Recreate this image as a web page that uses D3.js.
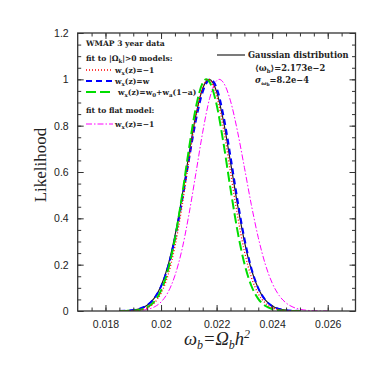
<!DOCTYPE html>
<html><head><meta charset="utf-8">
<script src="https://cdn.jsdelivr.net/npm/d3@7"></script>
<style>body{margin:0;background:#fff}</style>
</head><body>
<svg id="c" width="388" height="388"></svg>
<script>
// x positions (omega_b) and likelihood values
const xGauss = [0.0185,0.01875,0.019,0.01925,0.0195,0.01975,0.02,0.02025,0.0205,0.02075,0.021,0.02125,0.0215,0.02173,0.022,0.02225,0.0225,0.02275,0.023,0.02325,0.0235,0.02375,0.024,0.02425,0.0245,0.02475,0.025];
const yGauss = [0.0004,0.0014,0.0039,0.0103,0.0248,0.0542,0.108,0.196,0.325,0.490,0.673,0.843,0.961,1.0,0.947,0.818,0.643,0.461,0.301,0.179,0.0973,0.0481,0.0217,0.0089,0.0033,0.0011,0.0004];

const xRed = [0.0185,0.01875,0.019,0.01925,0.0195,0.01975,0.02,0.02025,0.0205,0.02075,0.021,0.02125,0.0215,0.0217,0.02175,0.022,0.02225,0.0225,0.02275,0.023,0.02325,0.0235,0.02375,0.024,0.02425,0.0245,0.02475,0.025];
const yRed = [0.0001,0.0004,0.0015,0.0048,0.0136,0.034,0.0766,0.154,0.278,0.448,0.647,0.835,0.965,1.0,0.998,0.930,0.785,0.599,0.414,0.258,0.146,0.0746,0.0345,0.0144,0.0055,0.0019,0.0006,0.0002];

const xBlue = [0.0185,0.01875,0.019,0.01925,0.0195,0.01975,0.02,0.02025,0.0205,0.02075,0.021,0.02125,0.0215,0.02178,0.022,0.02225,0.0225,0.02275,0.023,0.02325,0.0235,0.02375,0.024,0.02425,0.0245,0.02475,0.025];
const yBlue = [0.0005,0.0015,0.0042,0.0107,0.0251,0.0538,0.106,0.190,0.313,0.472,0.650,0.820,0.946,1.0,0.963,0.841,0.667,0.480,0.313,0.185,0.099,0.0482,0.0213,0.0085,0.0031,0.0010,0.0003];

const xGreen = [0.0185,0.01875,0.019,0.01925,0.0195,0.01975,0.02,0.02025,0.0205,0.02075,0.021,0.02125,0.0215,0.02163,0.02175,0.022,0.02225,0.0225,0.02275,0.023,0.02325,0.0235,0.02375,0.024,0.02425,0.0245,0.02475,0.025];
const yGreen = [0.0001,0.0005,0.0018,0.0057,0.0159,0.0397,0.0884,0.176,0.312,0.493,0.696,0.876,0.985,1.0,0.988,0.891,0.723,0.528,0.347,0.205,0.109,0.0524,0.0226,0.0088,0.0031,0.0010,0.0003,0.0001];

const xMag = [0.0185,0.01875,0.019,0.01925,0.0195,0.01975,0.02,0.02025,0.0205,0.02075,0.021,0.02125,0.0215,0.02175,0.022,0.02209,0.02225,0.0225,0.02275,0.023,0.02325,0.0235,0.02375,0.024,0.02425,0.0245,0.02475,0.025,0.02525,0.0255,0.02575,0.026];
const yMag = [0.0001,0.0002,0.0008,0.0025,0.0068,0.017,0.0388,0.0807,0.153,0.263,0.414,0.591,0.772,0.918,0.994,1.0,0.985,0.907,0.777,0.620,0.459,0.317,0.203,0.121,0.0673,0.0348,0.0168,0.0075,0.0031,0.0012,0.0004,0.0001];

const xTicks = [0.018,0.02,0.022,0.024,0.026];
const xTickLabels = ["0.018","0.02","0.022","0.024","0.026"];
const yTicks = [0,0.2,0.4,0.6,0.8,1,1.2];
const yTickLabels = ["0","0.2","0.4","0.6","0.8","1","1.2"];

const svg = d3.select("#c");
const L = 77.7, R = 355.5, T = 33, B = 311;
const x = d3.scaleLinear().domain([0.017,0.027]).range([L,R]);
const y = d3.scaleLinear().domain([0,1.2]).range([B,T]);

svg.append("clipPath").attr("id","clp").append("rect")
  .attr("x",L).attr("y",T).attr("width",R-L).attr("height",B-T);

const line = d3.line().x(d=>x(d[0])).y(d=>y(d[1])).curve(d3.curveMonotoneX);
const g = svg.append("g").attr("clip-path","url(#clp)");
function draw(xs, ys, color, w, dash){
  g.append("path").datum(xs.map((v,i)=>[v,ys[i]]))
    .attr("d",line).attr("fill","none").attr("stroke",color)
    .attr("stroke-width",w).attr("stroke-dasharray",dash||null);
}
draw(xGauss,yGauss,"#222",1.2,null);
draw(xMag,yMag,"#ff00ff",1,"6,2,1.5,2");
draw(xBlue,yBlue,"#0000ff",2,"6,4");
draw(xGreen,yGreen,"#00dd00",2,"10,4");
draw(xRed,yRed,"#ff0000",1.3,"1,2");

// axes (ticks inside, all four sides)
const ax = svg.append("g");
const minorX = d3.range(0.0175,0.0270,0.0005);
const minorY = d3.range(0.05,1.2,0.05);
ax.append("g").attr("transform",`translate(0,${B})`)
  .call(d3.axisBottom(x).tickValues(minorX).tickSize(-3.5).tickFormat(""));
ax.append("g").attr("transform",`translate(0,${B})`)
  .call(d3.axisBottom(x).tickValues(xTicks).tickSize(-6).tickPadding(10).tickFormat((d,i)=>xTickLabels[i]));
ax.append("g").attr("transform",`translate(0,${T})`)
  .call(d3.axisTop(x).tickValues(minorX).tickSize(-3.5).tickFormat(""));
ax.append("g").attr("transform",`translate(0,${T})`)
  .call(d3.axisTop(x).tickValues(xTicks).tickSize(-6).tickFormat(""));
ax.append("g").attr("transform",`translate(${L},0)`)
  .call(d3.axisLeft(y).tickValues(minorY).tickSize(-3.5).tickFormat(""));
ax.append("g").attr("transform",`translate(${L},0)`)
  .call(d3.axisLeft(y).tickValues(yTicks).tickSize(-6).tickPadding(9).tickFormat((d,i)=>yTickLabels[i]));
ax.append("g").attr("transform",`translate(${R},0)`)
  .call(d3.axisRight(y).tickValues(minorY).tickSize(-3.5).tickFormat(""));
ax.append("g").attr("transform",`translate(${R},0)`)
  .call(d3.axisRight(y).tickValues(yTicks).tickSize(-6).tickFormat(""));
ax.selectAll(".domain").remove();
ax.selectAll("line").attr("stroke","#333").attr("stroke-width",1);
ax.selectAll("text").attr("font-family","'Liberation Sans',Arial,sans-serif").attr("font-size","10.5px").attr("fill","#222");
svg.append("rect").attr("x",L).attr("y",T).attr("width",R-L).attr("height",B-T)
  .attr("fill","none").attr("stroke","#333").attr("stroke-width",1.3);

// axis titles
svg.append("text").attr("transform",`translate(46,${(T+B)/2-7}) rotate(-90)`)
  .attr("text-anchor","middle").attr("font-family","'Liberation Serif','DejaVu Serif',serif")
  .attr("font-size","17px").attr("fill","#222").text("Likelihood");
const xt = svg.append("text").attr("x",217).attr("y",345).attr("text-anchor","middle")
  .attr("font-family","'Liberation Serif','DejaVu Serif',serif").attr("font-style","italic")
  .attr("font-size","18.5px").attr("fill","#222");
xt.append("tspan").text("ω");
xt.append("tspan").attr("font-size","12px").attr("dy",4).text("b");
xt.append("tspan").attr("dy",-4).text("=Ω");
xt.append("tspan").attr("font-size","12px").attr("dy",4).text("b");
xt.append("tspan").attr("dy",-4).text("h");
xt.append("tspan").attr("font-size","12px").attr("dy",-7).text("2");

// legend
const lf = "'DejaVu Serif',serif";
function txt(xp, yp, parts, size){
  const t = svg.append("text").attr("x",xp).attr("y",yp).attr("font-family",lf)
    .attr("font-size",(size||7.6)+"px").attr("font-weight","bold").attr("fill","#222");
  parts.forEach(p=>{
    const s = t.append("tspan").text(p[0]);
    if(p[1]==="sub") s.attr("font-size","5.5px").attr("dy",2);
    if(p[1]==="up") s.attr("dy",-2);
  });
  return t;
}
txt(86,46,[["WMAP 3 year data"]]);
txt(86,61,[["fit to |Ω"],["k","sub"],["|>0 models:","up"]]);
function leg(yp, color, w, dash, parts, xl){
  svg.append("line").attr("x1",86).attr("x2",113).attr("y1",yp).attr("y2",yp)
    .attr("stroke",color).attr("stroke-width",w).attr("stroke-dasharray",dash||null);
  txt(xl||115, yp+3, parts);
}
leg(70,"#ff0000",1.3,"1,2",[["w"],["x","sub"],["(z)=−1","up"]]);
leg(81,"#0000ff",2,"6,4",[["w"],["x","sub"],["(z)=w","up"]]);
leg(92,"#00dd00",2,"10,4",[["w"],["x","sub"],["(z)=w","up"],["0","sub"],["+w","up"],["a","sub"],["(1−a)","up"]],118);
txt(86,113,[["fit to flat model:"]]);
leg(124,"#ff00ff",1,"6,2,1.5,2",[["w"],["x","sub"],["(z)=−1","up"]]);

svg.append("line").attr("x1",217).attr("x2",245).attr("y1",55).attr("y2",55)
  .attr("stroke","#222").attr("stroke-width",1.2);
txt(248,58,[["Gaussian distribution"]],8.3);
txt(255,71,[["⟨ω"],["b","sub"],["⟩=2.173e−2","up"]],8.3);
const st = svg.append("text").attr("x",255).attr("y",83).attr("font-family",lf)
  .attr("font-size","8.3px").attr("font-weight","bold").attr("fill","#222");
st.append("tspan").attr("font-style","italic").text("σ");
st.append("tspan").attr("font-style","italic").attr("font-size","5.5px").attr("dy",2).text("ω");
st.append("tspan").attr("font-size","4.5px").attr("dy",1).text("b");
st.append("tspan").attr("dy",-3).text("=8.2e−4");
</script>
</body></html>
